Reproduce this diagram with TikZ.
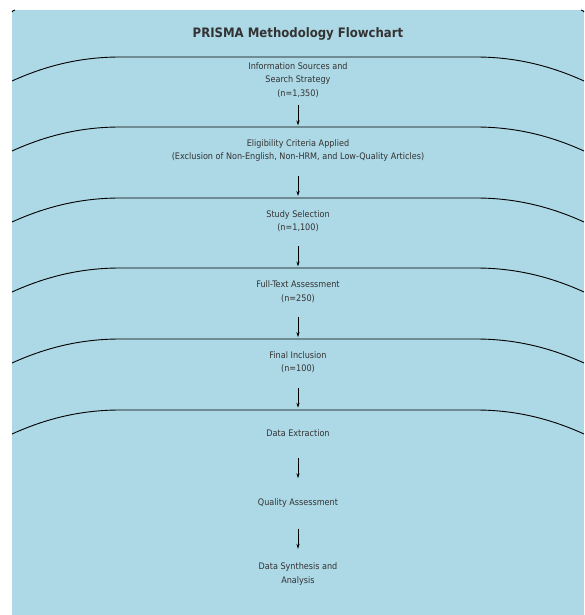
\documentclass[tikz,border=0pt]{standalone}
\usepackage{fontspec}
\setmainfont{DejaVu Sans Condensed}
\usetikzlibrary{arrows.meta}
\definecolor{bgblue}{HTML}{ADD8E6}
\definecolor{txt}{HTML}{333333}
\newcommand\bandcurve[1]{\draw[band] (12,#1+24) .. controls (45,#1+9) and (80,#1) .. (120,#1) -- (476,#1) .. controls (516,#1) and (551,#1+9) .. (584,#1+24);}
\begin{document}
\begin{tikzpicture}[x=1pt,y=-1pt,
  stage/.style={minimum height=50pt, inner sep=0pt, align=center, font=\fontsize{9}{13.5}\selectfont, text=txt},
  flow/.style={-{Stealth[length=5pt,width=3.2pt]}, line width=0.7pt, black},
  band/.style={line width=0.9pt, black}]
\useasboundingbox (0,0) rectangle (585,615);
\fill[bgblue] (12,10) rectangle (584,615);
\draw[band] (12,12) .. controls (12.5,11) and (13.5,10.3) .. (15,10);
\draw[band] (584,12) .. controls (583.5,11) and (582.5,10.3) .. (581,10);
\node[font=\fontsize{13}{15}\selectfont\bfseries, text=txt] (title) at (298,34) {PRISMA Methodology Flowchart};
\bandcurve{57}
\bandcurve{127}
\bandcurve{198}
\bandcurve{268}
\bandcurve{339}
\bandcurve{410}
\node[stage] (s1) at (298,80) {Information Sources and\\Search Strategy\\(n=1,350)};
\node[stage] (s2) at (298,150.6) {Eligibility Criteria Applied\\(Exclusion of Non-English, Non-HRM, and Low-Quality Articles)};
\node[stage] (s3) at (298,221.1) {Study Selection\\(n=1,100)};
\node[stage] (s4) at (298,291.7) {Full-Text Assessment\\(n=250)};
\node[stage] (s5) at (298,362.3) {Final Inclusion\\(n=100)};
\node[stage] (s6) at (298,432.9) {Data Extraction};
\node[stage] (s7) at (298,503.4) {Quality Assessment};
\node[stage] (s8) at (298,574) {Data Synthesis and\\Analysis};
\draw[flow] (s1) -- (s2);
\draw[flow] (s2) -- (s3);
\draw[flow] (s3) -- (s4);
\draw[flow] (s4) -- (s5);
\draw[flow] (s5) -- (s6);
\draw[flow] (s6) -- (s7);
\draw[flow] (s7) -- (s8);
\end{tikzpicture}
\end{document}
